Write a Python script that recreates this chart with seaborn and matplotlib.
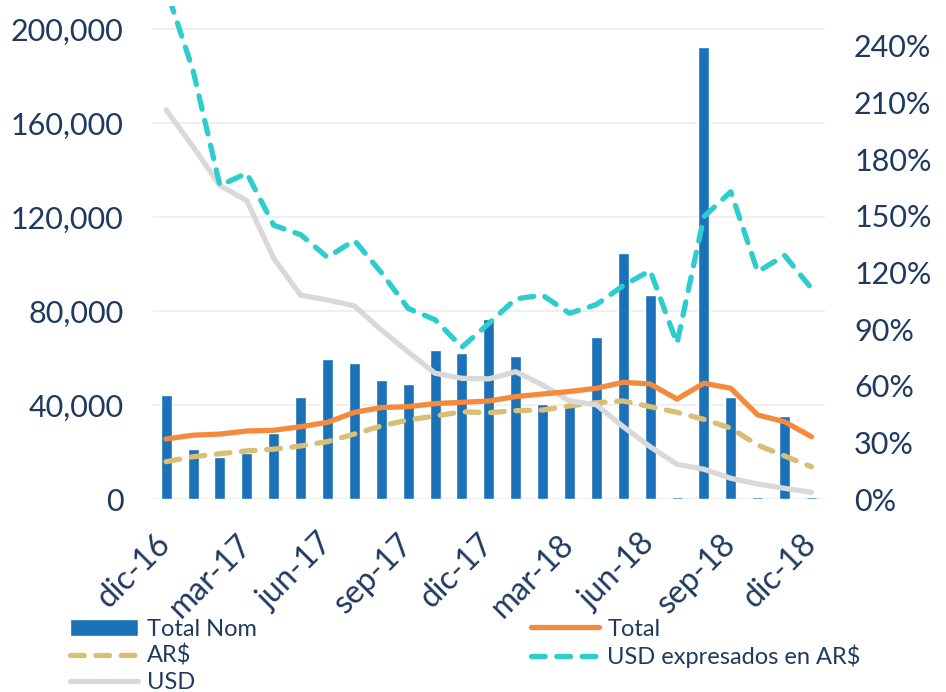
import numpy as np
import pandas as pd
import seaborn as sns
import matplotlib.pyplot as plt
from matplotlib.ticker import FuncFormatter, PercentFormatter

# %%
meses = ['dic-16', 'ene-17', 'feb-17', 'mar-17', 'abr-17', 'may-17', 'jun-17',
         'jul-17', 'ago-17', 'sep-17', 'oct-17', 'nov-17', 'dic-17', 'ene-18',
         'feb-18', 'mar-18', 'abr-18', 'may-18', 'jun-18', 'jul-18', 'ago-18',
         'sep-18', 'oct-18', 'nov-18', 'dic-18']

# eje izquierdo (barras)
total_nom = [44300, 21300, 17900, 19600, 28100, 43400, 59700, 57900, 50800, 48900,
             63400, 62400, 76600, 61000, 40500, 40800, 69100, 104700, 87100, 800,
             192600, 43700, 800, 35400, 800]

# eje derecho (%)
total = [31.9, 33.9, 34.5, 36.1, 36.5, 38.4, 40.7, 46.0, 48.5, 49.0, 50.6, 51.3, 52.0,
         54.3, 55.7, 57.0, 58.7, 61.9, 61.0, 53.0, 61.4, 58.7, 44.6, 41.0, 33.1]
ars = [19.9, 22.5, 24.1, 25.6, 26.5, 28.2, 30.5, 34.5, 38.8, 42.0, 44.0, 46.3, 45.8,
       46.9, 47.2, 49.4, 51.1, 52.0, 49.0, 46.0, 42.3, 37.6, 28.7, 22.9, 17.2]
usd_ars = [270.0, 227.0, 166.0, 172.5, 145.0, 140.0, 128.0, 137.0, 120.0, 101.0, 95.0,
           80.5, 93.0, 106.0, 108.0, 98.4, 103.0, 113.0, 121.0, 82.5, 149.5, 162.7,
           120.4, 129.0, 111.6]
usd = [206.0, 186.6, 166.0, 158.0, 127.5, 108.0, 105.4, 102.3, 89.6, 78.0, 66.7, 64.0,
       63.7, 67.5, 60.5, 52.0, 50.0, 38.4, 27.8, 18.5, 15.9, 11.1, 8.1, 5.8, 3.7]

# %%
sns.set_style('white')
plt.rcParams['font.family'] = ['Lato', 'DejaVu Sans']
texto = '#1F3A60'

df = pd.DataFrame({'mes': meses, 'total_nom': total_nom})
idx = np.arange(len(meses))

fig = plt.figure(figsize=(9.46, 6.92), dpi=100)
ax = fig.add_axes([0.1614, 0.2785, 0.7106, 0.7132])

sns.barplot(data=df, x='mes', y='total_nom', color='#1B72B8', width=0.41,
            saturation=1, label='Total Nom', ax=ax)

ax2 = ax.twinx()
estilo = dict(lw=3.8, solid_capstyle='round', dash_capstyle='round')
sns.lineplot(x=idx, y=ars, color='#D9BE75', linestyle=(0, (2.6, 2.2)),
             label='AR$', ax=ax2, **estilo)
sns.lineplot(x=idx, y=usd, color='#D9D9D9', label='USD', ax=ax2, **estilo)
sns.lineplot(x=idx, y=total, color='#F58A3C', label='Total', ax=ax2, **estilo)
sns.lineplot(x=idx, y=usd_ars, color='#2ECDCD', linestyle=(0, (2.6, 2.2)),
             label='USD expresados en AR$', ax=ax2, **estilo)

ax.set_ylim(0, 210000)
ax.set_yticks(np.arange(0, 200001, 40000))
ax.yaxis.set_major_formatter(FuncFormatter(lambda v, p: f'{v:,.0f}'))
ax2.set_ylim(0, 261.1)
ax2.set_yticks(np.arange(0, 241, 30))
ax2.yaxis.set_major_formatter(PercentFormatter(xmax=100, decimals=0))
ax.set_xlim(-0.5, len(meses) - 0.5)

ax.set_xticks(idx[::3])
ax.set_xticklabels(meses[::3], rotation=45, ha='right', va='center',
                   rotation_mode='anchor')
ax.set_xlabel('')
ax.set_ylabel('')
ax2.set_ylabel('')

ax.grid(axis='y', color='#EFEFEF', lw=1.5)
ax.set_axisbelow(True)
for a in (ax, ax2):
    for s in a.spines.values():
        s.set_visible(False)
    a.tick_params(length=0, labelsize=22, labelcolor=texto)
ax.tick_params(axis='y', pad=21)
ax2.tick_params(axis='y', pad=21)
ax.tick_params(axis='x', pad=29, labelsize=23)

if ax.get_legend():
    ax.get_legend().remove()
ax2.get_legend().remove()

h1, l1 = ax.get_legend_handles_labels()
h2, l2 = ax2.get_legend_handles_labels()
handles = [h1[0], h2[0], h2[1], h2[2], h2[3]]
labels = [l1[0], l2[0], l2[1], l2[2], l2[3]]
fig.legend(handles, labels, ncol=2, loc='upper left',
           bbox_to_anchor=(0.074, 0.106), bbox_transform=fig.transFigure,
           frameon=False, fontsize=17, labelcolor=texto, handlelength=2.9,
           handletextpad=0.35, columnspacing=11.6, labelspacing=0.22,
           borderpad=0, borderaxespad=0)

fig.savefig('out.png', dpi=100)
